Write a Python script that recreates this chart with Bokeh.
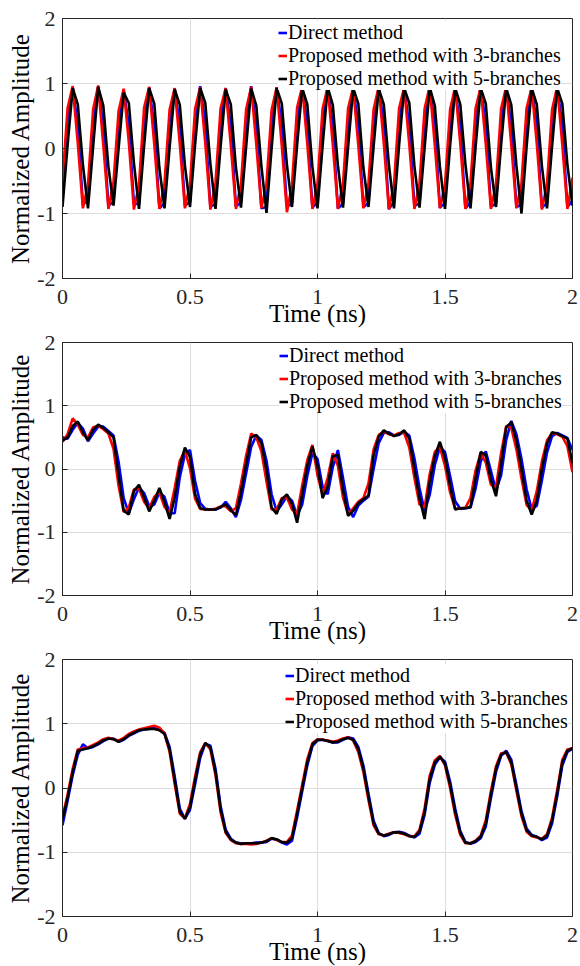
import numpy as np
from bokeh.plotting import figure
from bokeh.layouts import column
from bokeh.models import (FixedTicker, NumeralTickFormatter, Legend,
                          LegendItem, Range1d)
from bokeh.embed import file_html
from bokeh.resources import INLINE

FONT = "Liberation Serif"

# ---------------- data ----------------
time_ns = np.linspace(0, 2, 101)

x_ticks = [0, 0.5, 1, 1.5, 2]
y_ticks = [-2, -1, 0, 1, 2]
series_names = ["Direct method", "Proposed method with 3-branches", "Proposed method with 5-branches"]

# Panel 1 (sinusoid-like signal)
p1_direct = [
    -0.65, 0.45, 0.94, 0.35, -0.86, -0.80, 0.42, 0.95, 0.33, -0.88,
    -0.82, 0.40, 0.90, 0.36, -0.84, -0.86, 0.44, 0.94, 0.34, -0.92,
    -0.84, 0.43, 0.92, 0.35, -0.88, -0.82, 0.46, 0.96, 0.37, -0.90,
    -0.85, 0.44, 0.93, 0.34, -0.89, -0.83, 0.42, 0.96, 0.33, -0.92,
    -0.90, 0.41, 0.94, 0.35, -0.90, -0.84, 0.45, 0.95, 0.36, -0.91,
    -0.83, 0.44, 0.96, 0.34, -0.92, -0.85, 0.43, 0.94, 0.35, -0.90,
    -0.84, 0.42, 0.95, 0.36, -0.93, -0.82, 0.45, 0.94, 0.34, -0.88,
    -0.85, 0.43, 0.95, 0.35, -0.91, -0.84, 0.44, 0.94, 0.33, -0.92,
    -0.83, 0.42, 0.96, 0.36, -0.89, -0.85, 0.45, 0.94, 0.34, -0.90,
    -0.86, 0.43, 0.95, 0.35, -0.91, -0.84, 0.44, 0.94, 0.36, -0.90,
    -0.80]
p1_three = [
    -0.50, 0.62, 0.96, 0.08, -0.92, -0.55, 0.60, 0.97, 0.05, -0.93,
    -0.52, 0.58, 0.92, 0.10, -0.94, -0.56, 0.63, 0.95, 0.06, -0.93,
    -0.54, 0.60, 0.93, 0.07, -0.92, -0.55, 0.61, 0.94, 0.08, -0.94,
    -0.53, 0.62, 0.93, 0.05, -0.93, -0.55, 0.60, 0.95, 0.06, -0.92,
    -0.54, 0.59, 0.94, 0.04, -0.98, -0.56, 0.63, 0.95, 0.07, -0.93,
    -0.54, 0.61, 0.95, 0.06, -0.93, -0.55, 0.62, 0.94, 0.05, -0.92,
    -0.53, 0.60, 0.95, 0.08, -0.94, -0.55, 0.62, 0.94, 0.06, -0.93,
    -0.54, 0.61, 0.96, 0.05, -0.92, -0.56, 0.60, 0.95, 0.07, -0.93,
    -0.54, 0.62, 0.94, 0.06, -0.93, -0.55, 0.61, 0.95, 0.05, -0.92,
    -0.53, 0.62, 0.94, 0.07, -0.94, -0.55, 0.60, 0.95, 0.06, -0.93,
    -0.45]
p1_five = [
    -0.90, 0.05, 0.93, 0.68, -0.25, -0.92, 0.02, 0.95, 0.66, -0.28,
    -0.88, 0.00, 0.86, 0.70, -0.22, -0.93, 0.04, 0.93, 0.69, -0.30,
    -0.92, 0.01, 0.91, 0.67, -0.26, -0.90, 0.06, 0.93, 0.70, -0.24,
    -0.93, 0.03, 0.91, 0.68, -0.29, -0.91, 0.02, 0.92, 0.66, -0.27,
    -0.99, 0.00, 0.93, 0.69, -0.25, -0.90, 0.05, 0.93, 0.68, -0.28,
    -0.92, 0.04, 0.94, 0.67, -0.26, -0.91, 0.02, 0.93, 0.69, -0.30,
    -0.90, 0.03, 0.92, 0.68, -0.25, -0.92, 0.05, 0.93, 0.70, -0.27,
    -0.91, 0.01, 0.94, 0.66, -0.28, -0.93, 0.04, 0.93, 0.68, -0.24,
    -0.92, 0.02, 0.93, 0.69, -0.29, -0.90, 0.05, 0.93, 0.67, -0.26,
    -1.00, 0.03, 0.93, 0.68, -0.27, -0.92, 0.04, 0.93, 0.69, -0.25,
    -0.88]

# Panel 2
p2_direct = [
    0.50, 0.48, 0.62, 0.73, 0.64, 0.44, 0.56, 0.67, 0.67, 0.60,
    0.53, 0.11, -0.46, -0.70, -0.48, -0.29, -0.38, -0.59, -0.56, -0.37,
    -0.44, -0.70, -0.70, -0.13, 0.23, 0.30, -0.19, -0.54, -0.63, -0.64,
    -0.64, -0.61, -0.52, -0.62, -0.76, -0.49, -0.07, 0.35, 0.53, 0.46,
    0.13, -0.40, -0.67, -0.56, -0.43, -0.50, -0.74, -0.56, -0.11, 0.25,
    0.16, -0.28, -0.40, 0.03, 0.30, -0.14, -0.60, -0.76, -0.58, -0.50,
    -0.44, 0.00, 0.41, 0.57, 0.58, 0.53, 0.54, 0.59, 0.53, 0.17,
    -0.30, -0.67, -0.41, 0.06, 0.35, 0.27, -0.11, -0.51, -0.63, -0.62,
    -0.61, -0.31, 0.12, 0.28, -0.03, -0.34, -0.10, 0.46, 0.76, 0.55,
    0.16, -0.32, -0.64, -0.58, -0.18, 0.26, 0.52, 0.57, 0.53, 0.49,
    0.30]
p2_three = [
    0.43, 0.55, 0.80, 0.70, 0.54, 0.50, 0.66, 0.68, 0.63, 0.56,
    0.32, -0.27, -0.68, -0.61, -0.32, -0.31, -0.52, -0.62, -0.44, -0.37,
    -0.60, -0.69, -0.30, 0.13, 0.29, 0.01, -0.47, -0.63, -0.64, -0.64,
    -0.63, -0.59, -0.59, -0.67, -0.62, -0.23, 0.21, 0.56, 0.50, 0.28,
    -0.20, -0.64, -0.64, -0.46, -0.45, -0.64, -0.71, -0.26, 0.14, 0.38,
    -0.10, -0.41, -0.14, 0.25, 0.05, -0.45, -0.72, -0.62, -0.52, -0.46,
    -0.23, 0.31, 0.54, 0.59, 0.55, 0.53, 0.57, 0.57, 0.34, -0.14,
    -0.56, -0.61, -0.08, 0.27, 0.35, 0.05, -0.37, -0.63, -0.62, -0.61,
    -0.46, -0.02, 0.25, 0.10, -0.25, -0.28, 0.25, 0.68, 0.65, 0.31,
    -0.15, -0.57, -0.65, -0.35, 0.12, 0.45, 0.57, 0.55, 0.51, 0.36,
    -0.05]
p2_five = [
    0.45, 0.50, 0.68, 0.75, 0.58, 0.45, 0.62, 0.70, 0.65, 0.58,
    0.50, -0.10, -0.66, -0.72, -0.35, -0.25, -0.45, -0.67, -0.50, -0.30,
    -0.52, -0.79, -0.45, 0.04, 0.34, 0.19, -0.40, -0.62, -0.64, -0.64,
    -0.64, -0.60, -0.56, -0.65, -0.73, -0.36, 0.08, 0.50, 0.54, 0.41,
    -0.02, -0.61, -0.71, -0.48, -0.40, -0.55, -0.85, -0.40, 0.05, 0.36,
    0.05, -0.46, -0.28, 0.20, 0.22, -0.33, -0.74, -0.66, -0.54, -0.48,
    -0.42, 0.22, 0.51, 0.61, 0.56, 0.52, 0.55, 0.61, 0.48, 0.00,
    -0.46, -0.79, -0.20, 0.20, 0.43, 0.18, -0.26, -0.64, -0.62, -0.62,
    -0.60, -0.15, 0.27, 0.22, -0.17, -0.43, 0.08, 0.66, 0.74, 0.45,
    0.00, -0.50, -0.72, -0.50, 0.00, 0.40, 0.58, 0.56, 0.52, 0.48,
    0.09]

# Panel 3
p3_direct = [
    -0.58, -0.20, 0.20, 0.52, 0.68, 0.62, 0.64, 0.68, 0.73, 0.77,
    0.77, 0.72, 0.75, 0.81, 0.85, 0.89, 0.91, 0.92, 0.93, 0.91,
    0.86, 0.64, 0.18, -0.32, -0.48, -0.34, 0.06, 0.47, 0.69, 0.66,
    0.30, -0.28, -0.65, -0.79, -0.85, -0.86, -0.86, -0.86, -0.85, -0.85,
    -0.84, -0.79, -0.80, -0.85, -0.88, -0.82, -0.46, -0.05, 0.35, 0.65,
    0.74, 0.75, 0.73, 0.71, 0.71, 0.75, 0.79, 0.77, 0.64, 0.35,
    -0.09, -0.51, -0.70, -0.75, -0.73, -0.69, -0.68, -0.70, -0.74, -0.77,
    -0.71, -0.42, 0.08, 0.36, 0.48, 0.41, 0.10, -0.32, -0.67, -0.84,
    -0.87, -0.84, -0.78, -0.60, -0.16, 0.25, 0.50, 0.58, 0.44, 0.05,
    -0.36, -0.63, -0.73, -0.76, -0.81, -0.77, -0.55, -0.13, 0.35, 0.56,
    0.61]
p3_three = [
    -0.45, -0.10, 0.30, 0.60, 0.62, 0.63, 0.67, 0.71, 0.76, 0.78,
    0.76, 0.74, 0.78, 0.84, 0.88, 0.91, 0.93, 0.95, 0.97, 0.94,
    0.85, 0.56, 0.06, -0.40, -0.47, -0.25, 0.18, 0.56, 0.70, 0.60,
    0.20, -0.38, -0.70, -0.81, -0.86, -0.87, -0.87, -0.88, -0.87, -0.85,
    -0.82, -0.78, -0.81, -0.84, -0.84, -0.74, -0.35, 0.05, 0.45, 0.70,
    0.76, 0.75, 0.74, 0.72, 0.74, 0.77, 0.79, 0.74, 0.56, 0.25,
    -0.19, -0.58, -0.72, -0.74, -0.71, -0.69, -0.70, -0.72, -0.75, -0.75,
    -0.65, -0.32, 0.19, 0.43, 0.50, 0.35, 0.00, -0.42, -0.73, -0.86,
    -0.86, -0.82, -0.74, -0.50, -0.05, 0.34, 0.54, 0.55, 0.37, -0.04,
    -0.44, -0.68, -0.75, -0.77, -0.79, -0.72, -0.46, -0.03, 0.44, 0.60,
    0.62]
p3_five = [
    -0.49, -0.15, 0.25, 0.58, 0.60, 0.62, 0.65, 0.69, 0.74, 0.77,
    0.76, 0.72, 0.76, 0.82, 0.86, 0.90, 0.91, 0.92, 0.92, 0.90,
    0.84, 0.60, 0.12, -0.37, -0.48, -0.30, 0.12, 0.52, 0.70, 0.63,
    0.25, -0.33, -0.68, -0.80, -0.85, -0.87, -0.86, -0.86, -0.86, -0.85,
    -0.83, -0.78, -0.80, -0.84, -0.85, -0.78, -0.40, 0.00, 0.40, 0.68,
    0.75, 0.75, 0.73, 0.71, 0.72, 0.76, 0.78, 0.75, 0.60, 0.30,
    -0.14, -0.55, -0.71, -0.74, -0.72, -0.69, -0.69, -0.71, -0.75, -0.76,
    -0.68, -0.37, 0.14, 0.40, 0.49, 0.38, 0.05, -0.37, -0.70, -0.85,
    -0.86, -0.83, -0.76, -0.55, -0.10, 0.30, 0.52, 0.56, 0.40, 0.00,
    -0.40, -0.66, -0.74, -0.76, -0.80, -0.74, -0.50, -0.08, 0.40, 0.58,
    0.62]

COLORS = ["#0000FF", "#FF0000", "#000000"]
AX_COLOR = "#262626"


def style_axis(ax, ticks, fmt, standoff, label_standoff):
    ax.ticker = FixedTicker(ticks=ticks)
    ax.formatter = NumeralTickFormatter(format=fmt)
    ax.major_label_text_font = FONT
    ax.major_label_text_font_style = "normal"
    ax.major_label_text_font_size = "22px"
    ax.major_label_text_color = AX_COLOR
    ax.axis_label_text_font = FONT
    ax.axis_label_text_font_size = "25px"
    ax.axis_label_text_font_style = "normal"
    ax.axis_label_text_color = "#000000"
    ax.major_tick_in = 5
    ax.major_tick_out = 0
    ax.minor_tick_in = 0
    ax.minor_tick_out = 0
    ax.axis_line_color = AX_COLOR
    ax.major_tick_line_color = AX_COLOR
    ax.major_label_standoff = standoff
    ax.axis_label_standoff = label_standoff


def make_panel(ys, frame_h, top, bottom, leg_x, leg_top):
    p = figure(frame_width=510, frame_height=frame_h,
               min_border_left=62, min_border_right=8,
               min_border_top=top, min_border_bottom=bottom,
               x_range=Range1d(0, 2), y_range=Range1d(-2, 2),
               x_axis_label="Time (ns)", y_axis_label="Normalized Amplitude",
               output_backend="svg", toolbar_location=None)
    p.background_fill_color = "white"
    p.border_fill_color = "white"
    p.outline_line_color = AX_COLOR
    p.outline_line_width = 1
    style_axis(p.xaxis[0], x_ticks, "0.[0]", 11, -7)
    style_axis(p.yaxis[0], y_ticks, "0", 7, 0)
    p.xgrid.ticker = FixedTicker(ticks=x_ticks)
    p.ygrid.ticker = FixedTicker(ticks=y_ticks)
    for g in (p.xgrid[0], p.ygrid[0]):
        g.grid_line_color = "#dcdcdc"
        g.grid_line_width = 1

    renderers = []
    for y, c in zip(ys, COLORS):
        r = p.line(time_ns, y, line_color=c, line_width=2.6)
        renderers.append(r)

    item_h = 23
    legend = Legend(items=[LegendItem(label=n, renderers=[r])
                           for n, r in zip(series_names, renderers)],
                    location=(leg_x, frame_h - leg_top - 3 * item_h))
    legend.label_text_font = FONT
    legend.label_text_font_style = "normal"
    legend.label_text_font_size = "20px"
    legend.label_text_color = "#000000"
    legend.glyph_width = 9
    legend.glyph_height = item_h
    legend.label_height = item_h
    legend.label_standoff = 1
    legend.padding = 0
    legend.spacing = 0
    legend.margin = 0
    legend.border_line_alpha = 0
    legend.background_fill_color = "white"
    legend.background_fill_alpha = 1
    p.add_layout(legend)
    return p


p1 = make_panel([p1_direct, p1_three, p1_five], 260, 18, 50, 216, 3)
p2 = make_panel([p2_direct, p2_three, p2_five], 253, 13, 50, 217, 2)
p3 = make_panel([p3_direct, p3_three, p3_five], 257, 13, 50, 223, 5)

layout = column(p1, p2, p3, spacing=0)
open("out.html", "w").write(file_html(layout, INLINE))
